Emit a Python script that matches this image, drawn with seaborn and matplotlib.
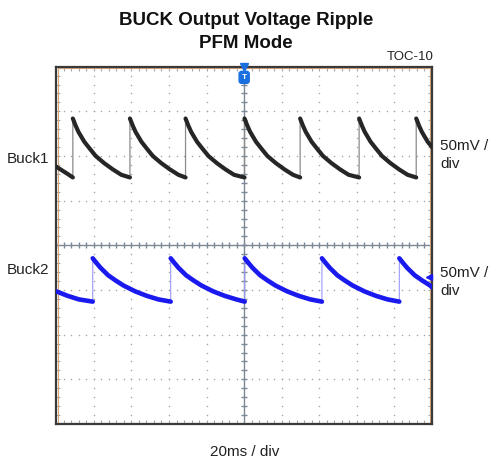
import numpy as np
import pandas as pd
import matplotlib
matplotlib.use("Agg")
import matplotlib.pyplot as plt
import seaborn as sns
from matplotlib.patches import Rectangle

# ---- data (time in ms, screen voltage in mV; 20 ms/div, 50 mV/div) ----
buck1_t = [0, 3, 6, 8.8,
           8.8, 10.3, 11.8, 14.9, 17.9, 21.0, 25.5, 30.1, 34.6, 39.2,
           39.2, 40.7, 42.2, 45.3, 48.3, 51.4, 55.9, 60.5, 65.0, 68.8,
           68.8, 70.3, 71.8, 74.9, 77.9, 81.0, 85.5, 90.1, 94.6, 100.2,
           100.2, 101.7, 103.2, 106.3, 109.3, 112.4, 116.9, 121.5, 126.0, 129.8,
           129.8, 131.3, 132.8, 135.9, 138.9, 142.0, 146.5, 151.1, 155.6, 161.2,
           161.2, 162.7, 164.2, 167.3, 170.3, 173.4, 177.9, 182.5, 187.0, 191.6,
           191.6, 193.1, 194.6, 197.7, 200]
buck1_v = [88, 84, 80, 76,
           142, 134, 127, 116, 108, 100, 92, 85, 79, 76,
           142, 134, 127, 116, 108, 100, 92, 85, 79, 76,
           142, 134, 127, 116, 108, 100, 92, 85, 79, 76,
           142, 134, 127, 116, 108, 100, 92, 85, 79, 76,
           142, 134, 127, 116, 108, 100, 92, 85, 79, 76,
           142, 134, 127, 116, 108, 100, 92, 85, 79, 76,
           142, 134, 127, 116, 110]

buck2_t = [0, 6, 12, 19.4,
           19.4, 21.5, 23.5, 27.6, 31.7, 35.8, 42.0, 48.1, 54.3, 60.9,
           60.9, 63.0, 65.0, 69.1, 73.2, 77.3, 83.5, 89.6, 95.8, 100.3,
           100.3, 102.4, 104.4, 108.5, 112.6, 116.7, 122.9, 129.0, 135.2, 141.4,
           141.4, 143.5, 145.5, 149.6, 153.7, 157.8, 164.0, 170.1, 176.3, 182.6,
           182.6, 184.7, 186.7, 190.8, 194.9, 199.0, 200]
buck2_v = [-51.5, -56.5, -60.5, -63,
           -14.5, -20, -25, -33.5, -39.5, -45, -51.5, -56.5, -60.5, -63,
           -14.5, -20, -25, -33.5, -39.5, -45, -51.5, -56.5, -60.5, -63,
           -14.5, -20, -25, -33.5, -39.5, -45, -51.5, -56.5, -60.5, -63,
           -14.5, -20, -25, -33.5, -39.5, -45, -51.5, -56.5, -60.5, -63,
           -14.5, -20, -25, -33.5, -39.5, -45, -47]

title = "BUCK Output Voltage Ripple\nPFM Mode"
x_label = "20ms / div"
ch_labels = ["Buck1", "Buck2"]
scale_label = "50mV /\ndiv"
toc_label = "TOC-10"

X_DIVS, Y_DIVS = 10, 8
MS_PER_DIV, MV_PER_DIV = 20, 50

sns.set_theme(style="white")
plt.rcParams["font.family"] = ["Liberation Sans", "DejaVu Sans"]

W, H = 494, 465
fig = plt.figure(figsize=(W / 100, H / 100), dpi=100)
ax = fig.add_axes([56.3 / W, 1 - 424 / H, (432 - 56.3) / W, (424 - 66.7) / H])

xmax = X_DIVS * MS_PER_DIV
ymax = Y_DIVS / 2 * MV_PER_DIV
ax.set_xlim(0, xmax)
ax.set_ylim(-ymax, ymax)

grid_c = "#a6a6a6"
xs_major = np.arange(0, xmax + 1e-9, MS_PER_DIV)
ys_major = np.arange(-ymax, ymax + 1e-9, MV_PER_DIV)
xs_minor = np.arange(0, xmax + 1e-9, MS_PER_DIV / 5)
ys_minor = np.arange(-ymax, ymax + 1e-9, MV_PER_DIV / 5)
for xg in xs_major[1:-1]:
    if abs(xg - xmax / 2) > 1e-6:
        ax.plot(np.full_like(ys_minor, xg), ys_minor, ls="none", marker="o",
                ms=1.1, color=grid_c, mec="none", zorder=1)
for yg in ys_major[1:-1]:
    if abs(yg) > 1e-6:
        ax.plot(xs_minor, np.full_like(xs_minor, yg), ls="none", marker="o",
                ms=1.1, color=grid_c, mec="none", zorder=1)
cc = "#7d8896"
ax.axvline(xmax / 2, color=cc, lw=1.0, zorder=1)
ax.axhline(0, color=cc, lw=1.0, zorder=1)
ax.plot(np.full_like(ys_minor, xmax / 2), ys_minor, ls="none", marker="_",
        ms=5, mew=1.0, color=cc, zorder=1)
ax.plot(xs_minor, np.zeros_like(xs_minor), ls="none", marker="|",
        ms=5, mew=1.0, color=cc, zorder=1)

ax.set_xticks(xs_minor)
ax.set_yticks(ys_minor)
ax.tick_params(axis="both", which="both", direction="in", length=3, width=0.8,
               color=grid_c, top=True, right=True, bottom=True, left=True,
               labelbottom=False, labelleft=False)

for s in ax.spines.values():
    s.set_color("#3a3a3a")
    s.set_linewidth(1.6)
ax.add_patch(Rectangle((0.004, 0.004), 0.992, 0.992, transform=ax.transAxes,
                       fill=False, ec="#d7a67c", lw=0.8, zorder=2))

def trace_df(t, v):
    t = np.asarray(t, float)
    v = np.asarray(v, float)
    seg = np.concatenate([[0], np.cumsum(np.diff(t) == 0)])
    return pd.DataFrame({"t": t, "v": v, "seg": seg})

d1 = trace_df(buck1_t, buck1_v)
d2 = trace_df(buck2_t, buck2_v)

sns.lineplot(data=d1, x="t", y="v", sort=False, estimator=None, color="#8a8a8a",
             lw=0.9, ax=ax, zorder=3)
sns.lineplot(data=d1, x="t", y="v", units="seg", sort=False, estimator=None,
             color="#262626", lw=3.0, ax=ax, zorder=4)
sns.lineplot(data=d2, x="t", y="v", sort=False, estimator=None, color="#9a9af5",
             lw=0.8, ax=ax, zorder=3)
sns.lineplot(data=d2, x="t", y="v", units="seg", sort=False, estimator=None,
             color="#1a1aee", lw=3.3, ax=ax, zorder=4)
ax.set_xlabel("")
ax.set_ylabel("")

# trigger marker
ax.plot([xmax / 2], [ymax], marker="v", ms=6, color="#1a6fe0", clip_on=False, zorder=6)
ax.text(xmax / 2, ymax - 8, "T", ha="center", va="top", color="white", fontsize=6,
        fontweight="bold", zorder=7,
        bbox=dict(boxstyle="round,pad=0.3", fc="#1a6fe0", ec="#1a6fe0"))
# channel marker
ax.plot([xmax - 1.5], [buck2_v[-1] + 12], marker="<", ms=4, color="#1a1aee",
        clip_on=False, zorder=6)

def ftext(x, y, s, **kw):
    fig.text(x / W, 1 - y / H, s, **kw)

ftext(246, 32, title, ha="center", va="center", fontsize=13.5, fontweight="bold",
      linespacing=1.45, color="#111111")
ftext(434, 57, toc_label, ha="right", va="center", fontsize=9.5, color="#222222")
ftext(7, 159, ch_labels[0], ha="left", va="center", fontsize=11, color="#222222")
ftext(7, 270, ch_labels[1], ha="left", va="center", fontsize=11, color="#222222")
ftext(440, 155, scale_label, ha="left", va="center", fontsize=11, color="#222222",
      linespacing=1.4)
ftext(440, 282, scale_label, ha="left", va="center", fontsize=11, color="#222222",
      linespacing=1.4)
ftext(245, 452, x_label, ha="center", va="center", fontsize=11, color="#222222")

fig.savefig("out.png", dpi=100)
